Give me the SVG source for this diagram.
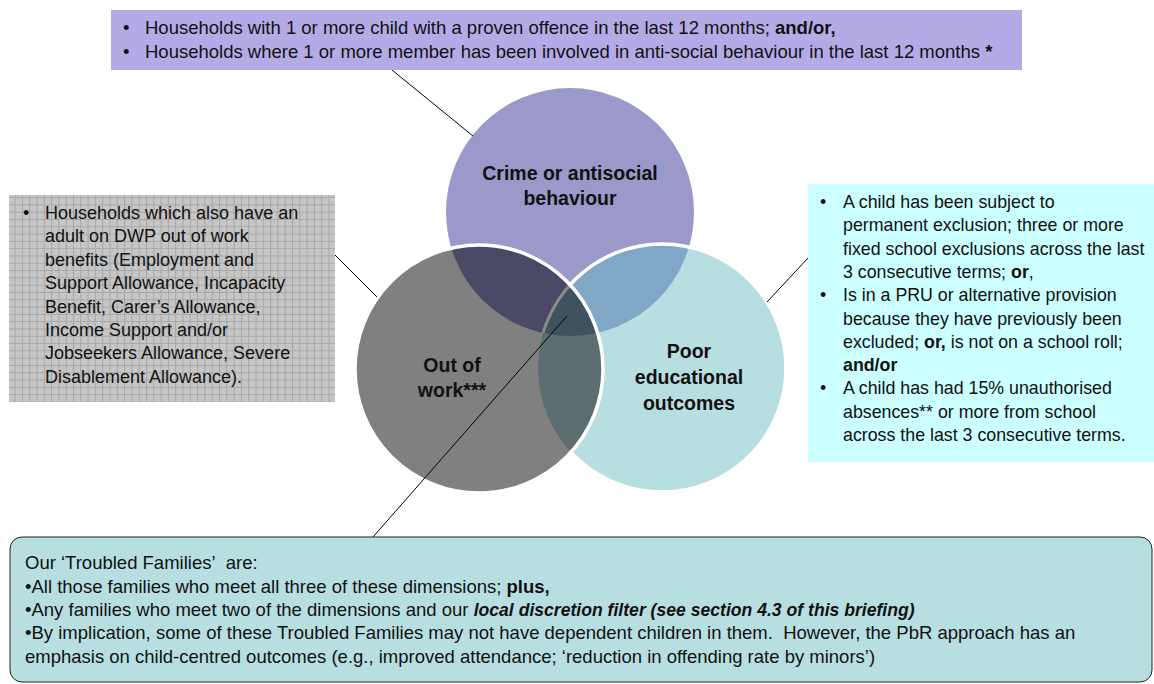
<svg xmlns="http://www.w3.org/2000/svg" width="1154" height="684" viewBox="0 0 1154 684">
<style>
.t{font-family:"Liberation Sans",Arial,sans-serif;font-size:17.5px;fill:#111}
.top .t,.sum .t{font-size:18.5px}
.wk .t{font-size:18px}
.ed .t{font-size:17.8px}
.b{font-weight:bold}
.bi{font-weight:bold;font-style:italic;font-size:17.6px}
.lbl{font-family:"Liberation Sans",Arial,sans-serif;font-size:19.5px;font-weight:bold;fill:#111;text-anchor:middle}
.con{stroke:#000;stroke-width:1;fill:none}
</style>
<defs>
<pattern id="grid" width="7.3" height="7.3" patternUnits="userSpaceOnUse">
<rect width="7.3" height="7.3" fill="#c6c6c6"/>
<path d="M0 0.5H7.3M0.5 0V7.3" stroke="#a6a6a6" stroke-width="1"/>
</pattern>
<clipPath id="cTop"><circle cx="570" cy="212" r="124"/></clipPath>
<clipPath id="cLeft"><circle cx="479" cy="369" r="124"/></clipPath>
<clipPath id="cRight"><circle cx="662" cy="368" r="124"/></clipPath>
</defs>

<g id="venn">
<g id="circle-crime">
<circle cx="570" cy="212" r="124" fill="#9b98ca"/>
</g>
<g id="circle-education">
<circle cx="662" cy="368" r="124" fill="#b7dfe1"/>
<g clip-path="url(#cRight)"><circle cx="570" cy="212" r="124" fill="#80a8c6"/></g>
<circle cx="662" cy="368" r="124" fill="none" stroke="#fff" stroke-width="3.5"/>
</g>
<g id="circle-work">
<circle cx="479" cy="369" r="124" fill="#808080"/>
<g clip-path="url(#cLeft)">
<circle cx="570" cy="212" r="124" fill="#4b4a66"/>
<circle cx="662" cy="368" r="124" fill="#5d6e70"/>
<g clip-path="url(#cTop)">
<circle cx="662" cy="368" r="124" fill="#3e5260"/>
<circle cx="662" cy="368" r="124" fill="none" stroke="#8a8a8a" stroke-width="3"/>
</g>
</g>
<circle cx="479" cy="369" r="124" fill="none" stroke="#fff" stroke-width="3.5"/>
</g>
<text class="lbl" x="570" y="180">Crime or antisocial</text>
<text class="lbl" x="570" y="205">behaviour</text>
<text class="lbl" x="452" y="372">Out of</text>
<text class="lbl" x="452" y="397">work***</text>
<text class="lbl" x="689" y="358">Poor</text>
<text class="lbl" x="689" y="384">educational</text>
<text class="lbl" x="689" y="410">outcomes</text>
</g>

<g id="connectors">
<line class="con" x1="392" y1="70" x2="473" y2="136"/>
<line class="con" x1="334" y1="254" x2="377" y2="297"/>
<line class="con" x1="808" y1="258" x2="767" y2="302"/>
<line class="con" x1="373" y1="537" x2="567" y2="316"/>
</g>

<g id="box-crime" class="top">
<rect x="111" y="10" width="911" height="60" fill="#b4abe6"/>
<text class="t" x="123" y="34">•</text>
<text class="t" x="145" y="34">Households with 1 or more child with a proven offence in the last 12 months; <tspan class="b">and/or,</tspan></text>
<text class="t" x="123" y="58">•</text>
<text class="t" x="145" y="58">Households where 1 or more member has been involved in anti-social behaviour in the last 12 months <tspan class="b">*</tspan></text>
</g>

<g id="box-work" class="wk">
<rect x="9" y="195" width="326" height="207" fill="url(#grid)"/>
<text class="t" x="23" y="219">•</text>
<text class="t" x="45" y="219">Households which also have an</text>
<text class="t" x="45" y="242.4">adult on DWP out of work</text>
<text class="t" x="45" y="265.8">benefits (Employment and</text>
<text class="t" x="45" y="289.2">Support Allowance, Incapacity</text>
<text class="t" x="45" y="312.6">Benefit, Carer’s Allowance,</text>
<text class="t" x="45" y="336">Income Support and/or</text>
<text class="t" x="45" y="359.4">Jobseekers Allowance, Severe</text>
<text class="t" x="45" y="382.8">Disablement Allowance).</text>
</g>

<g id="box-education" class="ed">
<rect x="808" y="184" width="346" height="278" fill="#ccffff"/>
<text class="t" x="820" y="208">•</text>
<text class="t" x="843" y="208">A child has been subject to</text>
<text class="t" x="843" y="231.3">permanent exclusion; three or more</text>
<text class="t" x="843" y="254.6">fixed school exclusions across the last</text>
<text class="t" x="843" y="277.9">3 consecutive terms; <tspan class="b">or</tspan>,</text>
<text class="t" x="820" y="301.2">•</text>
<text class="t" x="843" y="301.2">Is in a PRU or alternative provision</text>
<text class="t" x="843" y="324.5">because they have previously been</text>
<text class="t" x="843" y="347.8">excluded; <tspan class="b">or,</tspan> is not on a school roll;</text>
<text class="t b" x="843" y="371.1">and/or</text>
<text class="t" x="820" y="394.4">•</text>
<text class="t" x="843" y="394.4">A child has had 15% unauthorised</text>
<text class="t" x="843" y="417.7">absences** or more from school</text>
<text class="t" x="843" y="441">across the last 3 consecutive terms.</text>
</g>

<g id="box-summary" class="sum">
<rect x="10" y="537" width="1142" height="145" rx="12" fill="#b7dfe1" stroke="#222" stroke-width="1"/>
<text class="t" x="25" y="569">Our ‘Troubled Families’&#160; are:</text>
<text class="t" x="25" y="593">•All those families who meet all three of these dimensions; <tspan class="b">plus,</tspan></text>
<text class="t" x="25" y="616">•Any families who meet two of the dimensions and our <tspan class="bi">local discretion filter (see section 4.3 of this briefing)</tspan></text>
<text class="t" x="25" y="639">•By implication, some of these Troubled Families may not have dependent children in them.&#160; However, the PbR approach has an</text>
<text class="t" x="25" y="663">emphasis on child-centred outcomes (e.g., improved attendance; ‘reduction in offending rate by minors’)</text>
</g>
</svg>
